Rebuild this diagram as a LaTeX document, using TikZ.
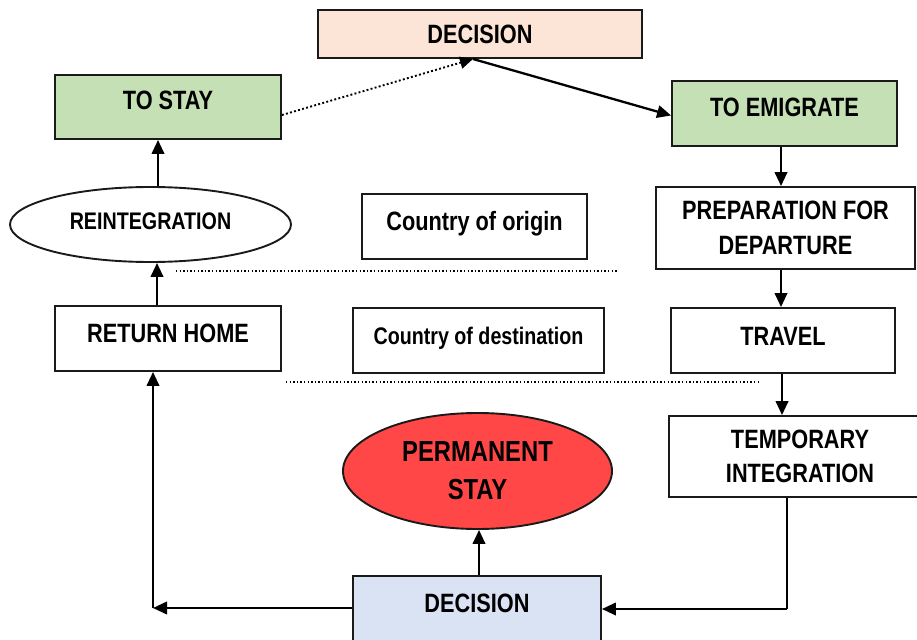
\documentclass[tikz,border=0pt]{standalone}
\usepackage{fontspec}
\newfontfamily\narrowbf{Liberation Sans Bold}[FakeStretch=0.82]
\usetikzlibrary{arrows.meta,shapes.geometric}
\definecolor{peach}{HTML}{FCE4D6}
\definecolor{lgreen}{HTML}{C5E0B4}
\definecolor{lblue}{HTML}{DAE3F3}
\definecolor{pred}{HTML}{FF4747}
\definecolor{edge}{HTML}{1A1A1A}
\tikzset{
  box/.style={draw=edge,line width=1.9pt,rectangle,inner sep=0pt,align=center,
    font=\narrowbf\fontsize{26.5}{34.5}\selectfont,text=black},
  ell/.style={box,ellipse},
  up/.style={text height=19pt,text depth=#1},
  arr/.style={line width=2.3pt,draw=black,-{Triangle[length=14pt,width=12.5pt]}},
  plain/.style={line width=2.3pt,draw=black},
  dots/.style={line width=1.9pt,dash pattern=on 1.9pt off 2.3pt,draw=black},
}
\begin{document}
\begin{tikzpicture}[x=1pt,y=-1pt]
\useasboundingbox (0,0) rectangle (917,639);
% boxes
\node[box,fill=peach,minimum width=324pt,minimum height=48pt] (dectop) at (480,34) {DECISION};
\node[box,fill=lgreen,minimum width=226pt,minimum height=64pt,up=14pt] (tostay) at (168,107) {TO STAY};
\node[box,fill=lgreen,minimum width=225pt,minimum height=65pt,up=12pt] (toemig) at (784.5,113.5) {TO EMIGRATE};
\node[box,fill=white,minimum width=259pt,minimum height=82pt] (prep) at (785.5,228) {PREPARATION FOR\\DEPARTURE};
\node[box,fill=white,minimum width=224pt,minimum height=65pt,up=10pt] (travel) at (783,340.5) {TRAVEL};
\node[box,fill=white,minimum width=262pt,minimum height=81pt] (temp) at (800,456.5) {TEMPORARY\\INTEGRATION};
\node[ell,fill=white,minimum width=281pt,minimum height=75pt,up=9pt,font=\narrowbf\fontsize{24}{28}\selectfont] (reint) at (150.5,224.5) {REINTEGRATION};
\node[box,fill=white,minimum width=225pt,minimum height=65pt,up=11pt] (origin) at (474.5,226.5) {Country of origin};
\node[box,fill=white,minimum width=251pt,minimum height=65pt,up=12pt,font=\narrowbf\fontsize{24}{28}\selectfont] (dest) at (478.5,340.5) {Country of destination};
\node[box,fill=white,minimum width=226pt,minimum height=65pt,up=12pt] (rethome) at (168,338.5) {RETURN HOME};
\node[ell,fill=pred,minimum width=269pt,minimum height=116pt,font=\narrowbf\fontsize{29}{38}\selectfont] (perm) at (477.5,471) {PERMANENT\\STAY};
\node[box,fill=lblue,minimum width=248pt,minimum height=66pt,up=12pt] (decbot) at (477,609) {DECISION};
% helper coordinates
\coordinate (dp) at (473,59);
\coordinate (xa) at (158,0);
\coordinate (xb) at (157,0);
\coordinate (xc) at (781,0);
\coordinate (xd) at (782,0);
\coordinate (xe) at (479,0);
\coordinate (cL) at (153,608);
\coordinate (cR) at (787,609);
\coordinate (d1a) at (176,271);
\coordinate (d1b) at (618,271);
\coordinate (d2a) at (286,382);
\coordinate (d2b) at (758,382);
% connectors
\draw[dots,-{Triangle[length=13pt,width=12pt]}] ([yshift=-8pt]tostay.east) -- (dp);
\draw[arr] (dp) -- ([yshift=-2pt]toemig.west);
\draw[arr] (toemig.south -| xc) -- (prep.north -| xc);
\draw[arr] (prep.south -| xc) -- (travel.north -| xc);
\draw[arr] (travel.south -| xd) -- (temp.north -| xd);
\draw[plain] (temp.south -| cR) -- (cR);
\draw[arr] (cR) -- (decbot.east |- cR);
\draw[arr] (decbot.north -| xe) -- (perm.south -| xe);
\draw[arr] (decbot.west |- cL) -- (cL);
\draw[arr] (cL) -- (rethome.south -| cL);
\draw[arr] (rethome.north -| xb) -- (reint.south -| xb);
\draw[arr] (reint.north -| xa) -- (tostay.south -| xa);
\draw[dots,line width=1.4pt,dash pattern=on 1.4pt off 2.2pt] (d1a) -- (d1b);
\draw[dots,line width=1.4pt,dash pattern=on 1.4pt off 2.2pt] (d2a) -- (d2b);
\end{tikzpicture}
\end{document}
